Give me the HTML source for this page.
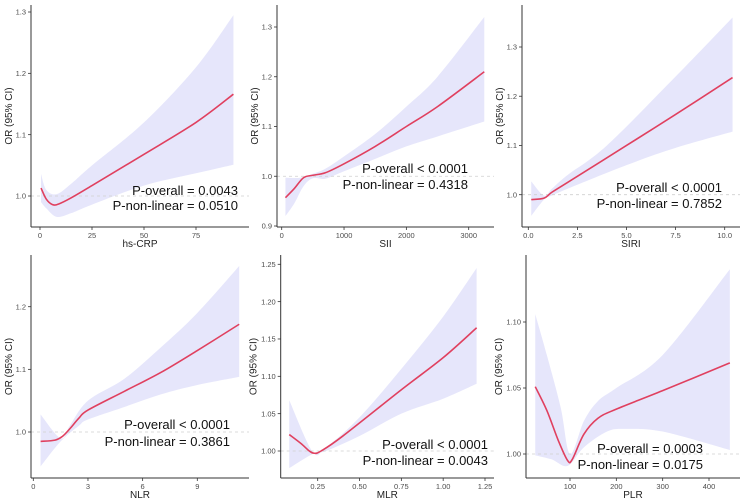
<!DOCTYPE html>
<html><head><meta charset="utf-8">
<style>
html,body{margin:0;padding:0;background:#fff;}
svg{display:block;font-family:"Liberation Sans",Arial,sans-serif;}
</style></head>
<body>
<svg id="chart" width="750" height="498" viewBox="0 0 750 498"></svg>
<script>
// ---- data arrays ----
const crpX=[0.5,3,6,9,15,25,50,75,93];
const crpEst=[1.013,0.995,0.986,0.987,0.997,1.017,1.068,1.12,1.166];
const crpLoX=[0.5,3,8,15,25,50,75,93];
const crpLo=[0.99,0.98,0.966,0.972,0.986,1.017,1.037,1.051];
const crpHiX=[0.5,3,8,15,25,50,75,93];
const crpHi=[1.036,1.01,1.003,1.02,1.05,1.12,1.21,1.295];

const siiX=[60,200,350,500,700,1000,1500,2000,2500,3250];
const siiEst=[0.957,0.975,0.997,1.002,1.007,1.025,1.06,1.1,1.14,1.21];
const siiLoX=[60,200,350,500,700,1000,1500,2000,2500,3250];
const siiLo=[0.92,0.945,0.98,0.996,0.995,1.01,1.035,1.06,1.08,1.11];
const siiHiX=[60,300,500,700,1000,1500,2000,2500,3250];
const siiHi=[0.997,0.997,1.005,1.015,1.04,1.085,1.14,1.2,1.32];

const siriX=[0.15,0.8,1.2,2,5,7.5,10.4];
const siriEst=[0.99,0.993,1.005,1.025,1.1,1.163,1.238];
const siriLoX=[0.15,0.8,1.2,2,5,7.5,10.4];
const siriLo=[0.957,0.99,0.998,1.012,1.06,1.095,1.128];
const siriHiX=[0.15,0.8,1.2,2,4,7.5,10.4];
const siriHi=[1.027,0.998,1.012,1.04,1.1,1.24,1.36];

const nlrX=[0.4,1.2,1.6,2,2.5,3,5,7,9,11.3];
const nlrEst=[0.985,0.987,0.993,1.005,1.022,1.035,1.065,1.095,1.13,1.172];
const nlrLoX=[0.4,1.5,2.5,3,5,7,9,11.3];
const nlrLo=[0.945,0.985,1.01,1.02,1.04,1.06,1.075,1.088];
const nlrHiX=[0.4,1.5,2,3,5,7,9,11.3];
const nlrHi=[1.028,0.99,1.01,1.05,1.085,1.135,1.19,1.265];

const mlrX=[0.08,0.15,0.2,0.23,0.27,0.4,0.75,1.0,1.2];
const mlrEst=[1.022,1.01,1.0,0.997,1.0,1.02,1.082,1.125,1.165];
const mlrLoX=[0.08,0.22,0.3,0.5,0.75,1.0,1.2];
const mlrLo=[0.977,0.996,1.0,1.02,1.05,1.07,1.09];
const mlrHiX=[0.08,0.22,0.3,0.5,0.75,1.0,1.2];
const mlrHi=[1.068,0.999,1.005,1.045,1.11,1.18,1.245];

const plrX=[25,50,75,95,105,130,160,200,300,445];
const plrEst=[1.051,1.033,1.01,0.995,0.996,1.015,1.027,1.034,1.048,1.069];
const plrLoX=[25,60,95,130,180,220,300,445];
const plrLo=[0.999,0.996,0.991,1.005,1.017,1.019,1.017,1.003];
const plrHiX=[25,50,80,100,130,160,200,300,445];
const plrHi=[1.106,1.075,1.035,1.0,1.025,1.04,1.05,1.075,1.14];

const crpXTicks=[0,25,50,75], crpYTicks=[1.0,1.1,1.2,1.3];
const siiXTicks=[0,1000,2000,3000], siiYTicks=[0.9,1.0,1.1,1.2,1.3];
const siriXTicks=[0,2.5,5,7.5,10], siriYTicks=[1.0,1.1,1.2,1.3];
const nlrXTicks=[0,3,6,9], nlrYTicks=[1.0,1.1,1.2];
const mlrXTicks=[0.25,0.5,0.75,1.0,1.25], mlrYTicks=[1.0,1.05,1.1,1.15,1.2,1.25];
const plrXTicks=[100,200,300,400], plrYTicks=[1.0,1.05,1.1];

// ---- panel layout (pixel calibration) ----
const panels=[
 {id:'hs-crp',title:'hs-CRP',ax:31,top:5,bottom:227,right:249,x0:0,px0:40,x1:75,px1:196,y0:1.0,py0:196,y1:1.3,py1:12,
  X:crpX,E:crpEst,LX:crpLoX,L:crpLo,HX:crpHiX,H:crpHi,xt:crpXTicks,yt:crpYTicks,xd:0,yd:1,
  p1:'P-overall = 0.0043',p2:'P-non-linear = 0.0510',tx:238,t1:195,t2:210},
 {id:'sii',title:'SII',ax:277,top:5,bottom:227,right:494,x0:0,px0:281.7,x1:3000,px1:468.7,y0:0.9,py0:226,y1:1.3,py1:27,
  X:siiX,E:siiEst,LX:siiLoX,L:siiLo,HX:siiHiX,H:siiHi,xt:siiXTicks,yt:siiYTicks,xd:0,yd:1,
  p1:'P-overall < 0.0001',p2:'P-non-linear = 0.4318',tx:468,t1:173,t2:189},
 {id:'siri',title:'SIRI',ax:522,top:5,bottom:227,right:740,x0:0,px0:528.3,x1:10,px1:724.7,y0:1.0,py0:194.7,y1:1.3,py1:47,
  X:siriX,E:siriEst,LX:siriLoX,L:siriLo,HX:siriHiX,H:siriHi,xt:siriXTicks,yt:siriYTicks,xd:1,yd:1,
  p1:'P-overall < 0.0001',p2:'P-non-linear = 0.7852',tx:722,t1:192,t2:208},
 {id:'nlr',title:'NLR',ax:31,top:255,bottom:478,right:249,x0:0,px0:33.3,x1:9,px1:197.3,y0:1.0,py0:432,y1:1.2,py1:306.7,
  X:nlrX,E:nlrEst,LX:nlrLoX,L:nlrLo,HX:nlrHiX,H:nlrHi,xt:nlrXTicks,yt:nlrYTicks,xd:0,yd:1,
  p1:'P-overall < 0.0001',p2:'P-non-linear = 0.3861',tx:230,t1:429,t2:446},
 {id:'mlr',title:'MLR',ax:280.7,top:255,bottom:478,right:494,x0:0.25,px0:317.7,x1:1.25,px1:485,y0:1.0,py0:451,y1:1.25,py1:264.3,
  X:mlrX,E:mlrEst,LX:mlrLoX,L:mlrLo,HX:mlrHiX,H:mlrHi,xt:mlrXTicks,yt:mlrYTicks,xd:2,yd:2,
  p1:'P-overall < 0.0001',p2:'P-non-linear = 0.0043',tx:488,t1:449,t2:465},
 {id:'plr',title:'PLR',ax:526,top:255,bottom:478,right:740,x0:100,px0:570,x1:400,px1:709,y0:1.0,py0:454,y1:1.1,py1:322,
  X:plrX,E:plrEst,LX:plrLoX,L:plrLo,HX:plrHiX,H:plrHi,xt:plrXTicks,yt:plrYTicks,xd:0,yd:2,
  p1:'P-overall = 0.0003',p2:'P-non-linear = 0.0175',tx:703,t1:453,t2:469}
];

const NS='http://www.w3.org/2000/svg';
const svg=document.getElementById('chart');
function mk(tag,attrs,parent){const e=document.createElementNS(NS,tag);for(const k in attrs)e.setAttribute(k,attrs[k]);(parent||svg).appendChild(e);return e;}
function smooth(pts){ // catmull-rom to bezier
  let d='M'+pts[0][0].toFixed(2)+','+pts[0][1].toFixed(2);
  for(let i=0;i<pts.length-1;i++){
    const p0=pts[Math.max(0,i-1)],p1=pts[i],p2=pts[i+1],p3=pts[Math.min(pts.length-1,i+2)];
    const c1=[p1[0]+(p2[0]-p0[0])/6,p1[1]+(p2[1]-p0[1])/6];
    const c2=[p2[0]-(p3[0]-p1[0])/6,p2[1]-(p3[1]-p1[1])/6];
    d+=' C'+c1[0].toFixed(2)+','+c1[1].toFixed(2)+' '+c2[0].toFixed(2)+','+c2[1].toFixed(2)+' '+p2[0].toFixed(2)+','+p2[1].toFixed(2);
  }
  return d;
}

panels.forEach(p=>{
  const sx=v=>p.px0+(v-p.x0)*(p.px1-p.px0)/(p.x1-p.x0);
  const sy=v=>p.py0+(v-p.y0)*(p.py1-p.py0)/(p.y1-p.y0);
  const g=mk('g',{});
  
  
  // CI band
  const hi=p.HX.map((x,i)=>[sx(x),sy(p.H[i])]);
  const lo=p.LX.map((x,i)=>[sx(x),sy(p.L[i])]).reverse();
  let d=smooth(hi);
  d+=' L'+lo[0][0].toFixed(2)+','+lo[0][1].toFixed(2)+' '+smooth(lo).slice(1).replace(/^[^C]*/,'')+' Z';
  const band=mk('path',{d:d,fill:'#e6e6fb',stroke:'none'},g);
  
  
  // reference line at OR=1
  const ref=mk('line',{x1:p.ax,x2:p.right,y1:sy(1),y2:sy(1),stroke:'#cfcfcf','stroke-width':0.8,'stroke-dasharray':'3,3'},g);
  
  
  // estimate curve
  const est=mk('path',{d:smooth(p.X.map((x,i)=>[sx(x),sy(p.E[i])])),fill:'none',stroke:'#e0405f','stroke-width':1.6},g);
  
  
  // axes
  const ya=mk('line',{x1:p.ax,x2:p.ax,y1:p.top,y2:p.bottom,stroke:'#333','stroke-width':1},g);
  
  
  const xa=mk('line',{x1:p.ax,x2:p.right,y1:p.bottom,y2:p.bottom,stroke:'#333','stroke-width':1},g);
  
  
  p.xt.forEach(v=>{
    const x=sx(v);
    mk('line',{x1:x,x2:x,y1:p.bottom,y2:p.bottom+3,stroke:'#333','stroke-width':0.8},g);
    const t=mk('text',{x:x,y:p.bottom+11,'font-size':7.5,fill:'#4d4d4d','text-anchor':'middle'},g);
    t.textContent=v.toFixed(p.xd);
    
    
  });
  p.yt.forEach(v=>{
    const y=sy(v);
    mk('line',{x1:p.ax-3,x2:p.ax,y1:y,y2:y,stroke:'#333','stroke-width':0.8},g);
    const t=mk('text',{x:p.ax-5,y:y+2.7,'font-size':7.5,fill:'#4d4d4d','text-anchor':'end'},g);
    t.textContent=v.toFixed(p.yd);
    
    
  });
  const xt=mk('text',{x:(p.ax+p.right)/2,y:p.bottom+20,'font-size':10,fill:'#222','text-anchor':'middle'},g);
  xt.textContent=p.title;
  
  
  const ytx=p.ax-(p.yd===2?24:19), yty=(p.top+p.bottom)/2;
  const yt=mk('text',{x:ytx,y:yty,'font-size':10,fill:'#222','text-anchor':'middle',transform:'rotate(-90 '+ytx+' '+yty+')'},g);
  yt.textContent='OR (95% CI)';
  
  
  const a1=mk('text',{x:p.tx,y:p.t1,'font-size':13,fill:'#111','text-anchor':'end'},g);
  a1.textContent=p.p1;
  
  
  const a2=mk('text',{x:p.tx,y:p.t2,'font-size':13,fill:'#111','text-anchor':'end'},g);
  a2.textContent=p.p2;
  
  
});
</script>
</body></html>
